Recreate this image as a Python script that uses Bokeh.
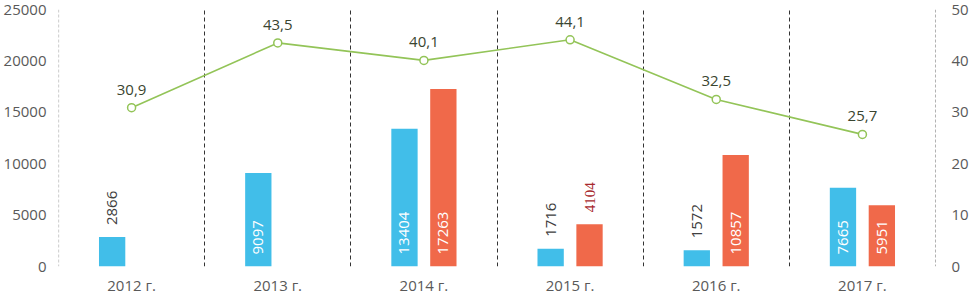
import numpy as np
from bokeh.plotting import figure
from bokeh.models import (ColumnDataSource, Range1d, LinearAxis, FixedTicker,
                          NumeralTickFormatter, Span)
from bokeh.transform import dodge
from bokeh.core.properties import value
from bokeh.embed import file_html
from bokeh.resources import INLINE

# ---- data ----
years = ["2012 г.", "2013 г.", "2014 г.", "2015 г.", "2016 г.", "2017 г."]
blue_vals = [2866, 9097, 13404, 1716, 1572, 7665]
red_vals = [np.nan, np.nan, 17263, 4104, 10857, 5951]
pct_vals = [30.9, 43.5, 40.1, 44.1, 32.5, 25.7]
left_ticks = [0, 5000, 10000, 15000, 20000, 25000]
right_ticks = [0, 10, 20, 30, 40, 50]

BLUE = "#41BEE9"
RED = "#F0694A"
GREEN = "#93C458"
FONT = "Open Sans"
INSIDE_THRESHOLD = 5000

xs = [i + 0.5 for i in range(len(years))]
src = ColumnDataSource(dict(x=xs, blue=blue_vals, red=red_vals, pct=pct_vals,
                            pct_lbl=[f"{v:.1f}".replace(".", ",") for v in pct_vals]))

p = figure(width=971, height=297, x_range=Range1d(0, 6), y_range=Range1d(0, 25000),
           output_backend="svg", toolbar_location=None,
           min_border_left=57, min_border_right=34, min_border_top=9, min_border_bottom=10)
p.outline_line_color = None
p.extra_y_ranges = {"pct": Range1d(0, 50)}

# axes
p.xaxis.ticker = FixedTicker(ticks=xs)
p.xaxis.major_label_overrides = {x: y for x, y in zip(xs, years)}
p.yaxis.ticker = FixedTicker(ticks=left_ticks)
p.yaxis.formatter = NumeralTickFormatter(format="0")
raxis = LinearAxis(y_range_name="pct", ticker=FixedTicker(ticks=right_ticks))
p.add_layout(raxis, "right")
for ax in [p.xaxis[0], p.yaxis[0], raxis]:
    ax.axis_line_color = None
    ax.major_tick_line_color = None
    ax.minor_tick_line_color = None
    ax.major_tick_out = 0
    ax.major_tick_in = 0
    ax.major_label_text_font = FONT
    ax.major_label_text_font_size = "15px"
    ax.major_label_text_color = "#595959"
p.yaxis[0].major_label_standoff = 12
raxis.major_label_standoff = 16
p.xaxis[0].major_label_standoff = 8

# grid: dashed separators between categories
p.ygrid.grid_line_color = None
p.xgrid.ticker = FixedTicker(ticks=[1, 2, 3, 4, 5])
p.xgrid.grid_line_color = "#333333"
p.xgrid.grid_line_dash = "4 3"
p.xgrid.grid_line_width = 1
p.add_layout(Span(location=0, dimension="height", line_color="#a8a8a8",
                  line_dash="3 2", line_width=1.2))
p.add_layout(Span(location=6, dimension="height", line_color="#666666",
                  line_dash="3 2", line_width=1))

# bars
OFF = 0.133
W = 0.18
p.vbar(x=dodge("x", -OFF, range=p.x_range), top="blue", width=W, source=src,
       fill_color=BLUE, line_color=None)
p.vbar(x=dodge("x", OFF, range=p.x_range), top="red", width=W, source=src,
       fill_color=RED, line_color=None)

# bar labels
def bar_labels(vals, off, out_color, out_font):
    ins = dict(x=[], y=[], t=[])
    out = dict(x=[], y=[], t=[])
    for x, v in zip(xs, vals):
        if v is None or (isinstance(v, float) and np.isnan(v)):
            continue
        if v >= INSIDE_THRESHOLD:
            ins["x"].append(x); ins["y"].append(0); ins["t"].append(str(int(v)))
        else:
            out["x"].append(x); out["y"].append(v); out["t"].append(str(int(v)))
    si = ColumnDataSource(ins)
    so = ColumnDataSource(out)
    p.text(x=dodge("x", off, range=p.x_range), y="y", text="t", source=si,
           angle=np.pi / 2, text_align="left", text_baseline="middle",
           y_offset=-12, text_color="white", text_font=value(FONT),
           text_font_size="15px")
    p.text(x=dodge("x", off, range=p.x_range), y="y", text="t", source=so,
           angle=np.pi / 2, text_align="left", text_baseline="middle",
           y_offset=-12, text_color=out_color, text_font=value(out_font),
           text_font_size="15px")

bar_labels(blue_vals, -OFF, "#404040", FONT)
bar_labels(red_vals, OFF, "#A8292E", "Liberation Serif")

# line
p.line(x="x", y="pct", source=src, y_range_name="pct", line_color=GREEN, line_width=1.6)
p.scatter(x="x", y="pct", source=src, y_range_name="pct", marker="circle", size=8,
          fill_color="white", line_color=GREEN, line_width=1.5)
p.text(x="x", y="pct", text="pct_lbl", source=src, y_range_name="pct",
       text_align="center", text_baseline="bottom", y_offset=-13,
       text_color="#3A4530", text_font=value(FONT), text_font_size="15px")

open("out.html", "w").write(file_html(p, INLINE))
